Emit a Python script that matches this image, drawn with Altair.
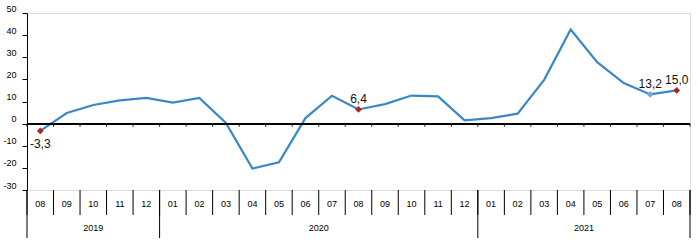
import altair as alt
import pandas as pd

# ---- data ----
months = ["08", "09", "10", "11", "12",
          "01", "02", "03", "04", "05", "06", "07", "08", "09", "10", "11", "12",
          "01", "02", "03", "04", "05", "06", "07", "08"]
years = ["2019"] * 5 + ["2020"] * 12 + ["2021"] * 8
values = [-3.3, 4.8, 8.4, 10.5, 11.6,
          9.5, 11.6, 0.3, -20.3, -17.5, 2.5, 12.6, 6.4, 8.8, 12.7, 12.3, 1.5,
          2.5, 4.5, 19.8, 42.5, 27.8, 18.3, 13.2, 15.0]
marked_idx = [0, 12, 23, 24]
marked_text = ["-3,3", "6,4", "13,2", "15,0"]
marked_color = ["#B22222", "#B22222", "#6FA8DC", "#B22222"]
marked_below = [True, False, False, False]
y_ticks = [-30, -20, -10, 0, 10, 20, 30, 40, 50]

FONT = "Liberation Sans"
LINE_COLOR = "#3A87C5"

n = len(values)
df = pd.DataFrame({"idx": list(range(n)), "value": values, "month": months, "year": years})

mk = pd.DataFrame({
    "idx": marked_idx,
    "value": [values[i] for i in marked_idx],
    "text": marked_text,
    "color": marked_color,
    "below": marked_below,
})

bounds = pd.DataFrame({"b": [i - 0.5 for i in range(n + 1)]})
ydf = df.groupby("year").idx.agg(["min", "max"]).reset_index()
ydf["center"] = (ydf["min"] + ydf["max"]) / 2
year_bounds = pd.DataFrame({"b": sorted(set(list(ydf["min"] - 0.5) + list(ydf["max"] + 0.5)))})

xscale = alt.Scale(domain=[-0.5, n - 0.5], nice=False, zero=False)
yscale = alt.Scale(domain=[-30, 50], nice=False, zero=False)

AX = alt.Axis(
    values=y_ticks, title=None, grid=False, tickSize=5, labelPadding=6,
    labelFontSize=9, labelFont=FONT, labelColor="black",
    domainColor="black", tickColor="black", labelBaseline="bottom",
    labelFlush=False, labelOverlap=False, labelExpr="'' + datum.value")

X = lambda f: alt.X(f, type="quantitative", scale=xscale, axis=None)
YV = lambda: alt.Y("value:Q", scale=yscale, axis=AX)
YD = lambda v: alt.datum(v, type="quantitative", scale=yscale, axis=AX)

line = alt.Chart(df).mark_line(color=LINE_COLOR, strokeWidth=2.2).encode(
    x=X("idx"), y=YV())

zero = alt.Chart(df).mark_rule(color="black", strokeWidth=1).encode(
    y=YD(0))

zero_ticks = alt.Chart(bounds).mark_rule(color="black", strokeWidth=1, y2Offset=3).encode(
    x=X("b"), y=YD(0), y2=alt.datum(0))

month_div = alt.Chart(bounds).mark_rule(color="black", strokeWidth=1, y2Offset=25).encode(
    x=X("b"), y=YD(-30), y2=alt.datum(-30))

year_div = alt.Chart(year_bounds).mark_rule(color="black", strokeWidth=1, y2Offset=48).encode(
    x=X("b"), y=YD(-30), y2=alt.datum(-30))

month_txt = alt.Chart(df).mark_text(font=FONT, fontSize=9, color="black",
                                     baseline="middle", dy=14).encode(
    x=X("idx"), y=YD(-30), text="month:N")

year_txt = alt.Chart(ydf).mark_text(font=FONT, fontSize=9, color="black",
                                     baseline="middle", dy=38).encode(
    x=X("center"), y=YD(-30), text="year:N")

points = alt.Chart(mk).mark_point(shape="diamond", filled=True, size=45, opacity=1).encode(
    x=X("idx"), y=YV(),
    color=alt.Color("color:N", scale=None))

lab_above = alt.Chart(mk[~mk["below"]]).mark_text(font=FONT, fontSize=12, color="#111111",
                                                   baseline="middle", dy=-10).encode(
    x=X("idx"), y=YV(), text="text:N")

lab_below = alt.Chart(mk[mk["below"]]).mark_text(font=FONT, fontSize=12, color="#111111",
                                                  baseline="middle", dy=13).encode(
    x=X("idx"), y=YV(), text="text:N")

chart = alt.layer(
    line, zero, zero_ticks, month_div, year_div, month_txt, year_txt,
    points, lab_above, lab_below
).properties(
    width=663, height=177,
    autosize=alt.AutoSizeParams(type="none"),
    padding={"left": 27, "top": 13, "right": 8, "bottom": 59},
).configure_view(stroke=None).configure(background="white")

chart.save("out.html", embed_options={"renderer": "svg", "actions": False})
